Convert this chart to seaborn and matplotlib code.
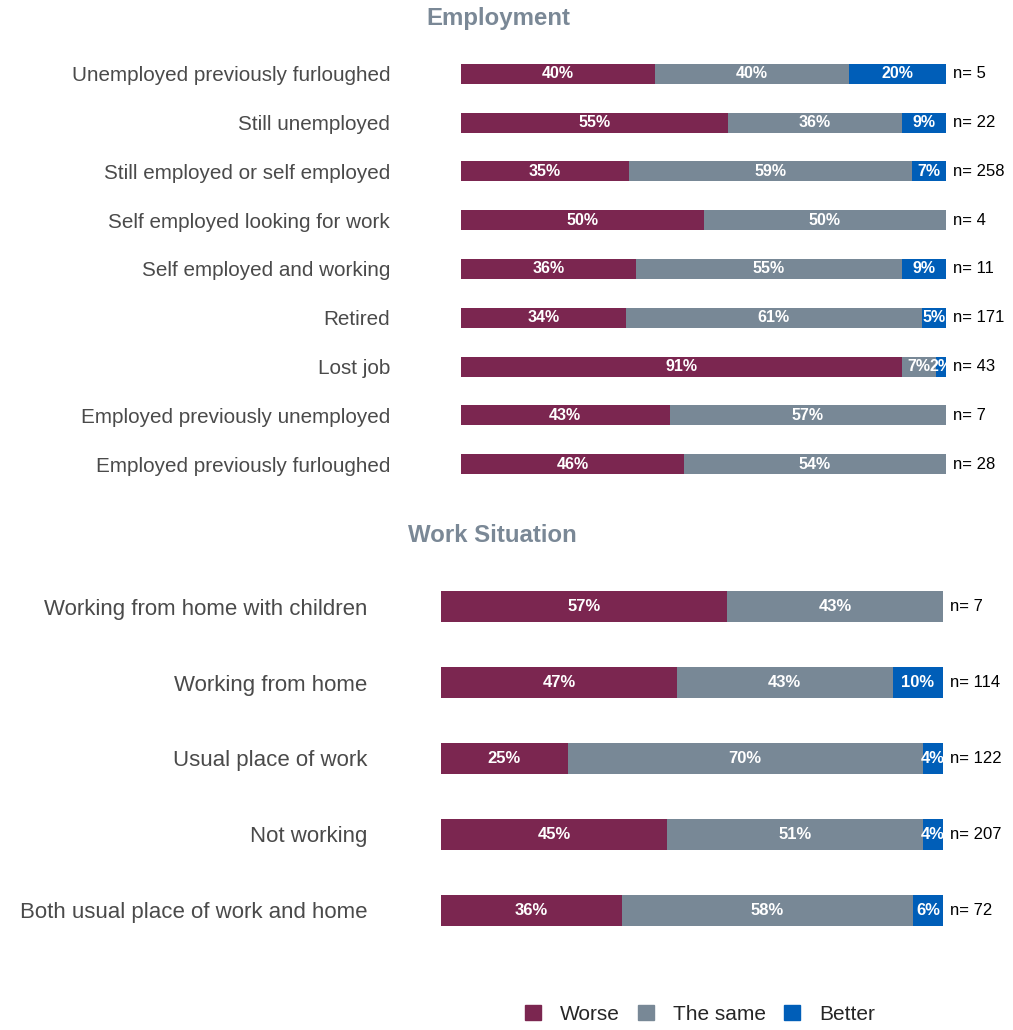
import numpy as np
import pandas as pd
import matplotlib
matplotlib.use("Agg")
import matplotlib.pyplot as plt
import seaborn as sns
from matplotlib.patches import Patch

sns.set_theme(style="white")
plt.rcParams["font.family"] = ["Liberation Sans", "DejaVu Sans"]

# Employment data (top to bottom)
emp_cats = ["Unemployed previously furloughed", "Still unemployed",
            "Still employed or self employed", "Self employed looking for work",
            "Self employed and working", "Retired", "Lost job",
            "Employed previously unemployed", "Employed previously furloughed"]
emp_worse = [40, 55, 35, 50, 36, 34, 91, 43, 46]
emp_same = [40, 36, 59, 50, 55, 61, 7, 57, 54]
emp_better = [20, 9, 7, 0, 9, 5, 2, 0, 0]
emp_n = [5, 22, 258, 4, 11, 171, 43, 7, 28]

# Work situation data (top to bottom)
work_cats = ["Working from home with children", "Working from home",
             "Usual place of work", "Not working",
             "Both usual place of work and home"]
work_worse = [57, 47, 25, 45, 36]
work_same = [43, 43, 70, 51, 58]
work_better = [0, 10, 4, 4, 6]
work_n = [7, 114, 122, 207, 72]

series = ["Worse", "The same", "Better"]
colors = {"Worse": "#7B2650", "The same": "#788896", "Better": "#005EB8"}


def stacked(ax, cats, worse, same, better, n, label_size, pct_size, pad):
    df = pd.DataFrame({"cat": cats, "Worse": worse, "The same": same, "Better": better})
    tot = df[series].sum(axis=1)
    for s in series:
        df[s] = df[s] / tot
    df["c1"] = df["Worse"]
    df["c2"] = df["Worse"] + df["The same"]
    df["c3"] = df["c2"] + df["Better"]
    for col, s in [("c3", "Better"), ("c2", "The same"), ("c1", "Worse")]:
        sns.barplot(data=df, y="cat", x=col, color=colors[s], width=0.41,
                    orient="h", ax=ax, saturation=1, linewidth=0)
    raw = {"Worse": worse, "The same": same, "Better": better}
    for i in range(len(cats)):
        left = 0
        for s in series:
            w = df[s].iloc[i]
            if raw[s][i] > 0:
                ax.text(left + w / 2, i, f"{raw[s][i]}%", ha="center", va="center",
                        color="white", fontweight="bold", fontsize=pct_size)
            left += w
        ax.text(1.014, i, f"n= {n[i]}", ha="left", va="center", color="black",
                fontsize=12)
    ax.set_xlim(0, 1)
    ax.set_ylim(len(cats) - 0.5, -0.5)
    ax.set_xlabel("")
    ax.set_ylabel("")
    ax.set_xticks([])
    ax.tick_params(axis="y", length=0, pad=pad, labelsize=label_size, labelcolor="#4a4a4a")
    sns.despine(ax=ax, left=True, bottom=True)


fig = plt.figure(figsize=(10.13, 10.30), dpi=100)

ax1 = fig.add_axes([461 / 1013, 1 - 488.4 / 1030, 485 / 1013, 438.8 / 1030])
stacked(ax1, emp_cats, emp_worse, emp_same, emp_better, emp_n, 14.9, 11.5, 51)

ax2 = fig.add_axes([441 / 1013, 1 - 948 / 1030, 502 / 1013, 379 / 1030])
stacked(ax2, work_cats, work_worse, work_same, work_better, work_n, 16, 12, 53)

fig.text(498 / 1013, 1 - 19 / 1030, "Employment", ha="center", va="center",
         fontsize=17.3, fontweight="bold", color="#7A8896")
fig.text(492 / 1013, 1 - 535 / 1030, "Work Situation", ha="center", va="center",
         fontsize=17.3, fontweight="bold", color="#7A8896")

handles = [Patch(color=colors[s], label=s) for s in series]
fig.legend(handles=handles, loc="center", bbox_to_anchor=(700 / 1013, 1 - 1014 / 1030),
           ncol=3, frameon=False, fontsize=15, handlelength=0.75, handleheight=0.75,
           columnspacing=0.9, handletextpad=0.9)

fig.savefig("out.png", dpi=100)
